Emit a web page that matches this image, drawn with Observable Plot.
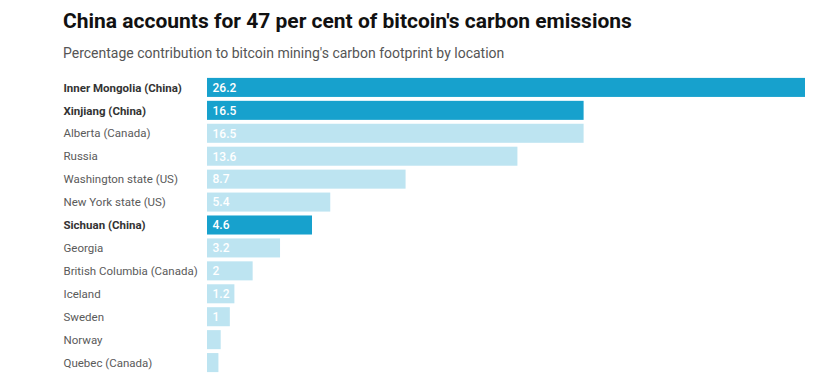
<!DOCTYPE html>
<html>
<head>
<meta charset="utf-8">
<script src="https://cdn.jsdelivr.net/npm/d3@7"></script>
<script src="https://cdn.jsdelivr.net/npm/@observablehq/plot@0.6"></script>
<style>
  html, body { margin: 0; padding: 0; background: #fff; }
  body { width: 820px; height: 378px; position: relative; overflow: hidden; font-family: Roboto, sans-serif; }
  #title { position: absolute; left: 63px; top: 9px; font-size: 21px; line-height: 24px; font-weight: 700; color: #111; white-space: nowrap; }
  #subtitle { position: absolute; left: 63px; top: 45px; font-size: 14px; line-height: 16px; color: #555; white-space: nowrap; }
  #chart { position: absolute; left: 0; top: 70px; }
  #chart svg { display: block; }
</style>
</head>
<body>
<div id="title">China accounts for 47 per cent of bitcoin's carbon emissions</div>
<div id="subtitle">Percentage contribution to bitcoin mining's carbon footprint by location</div>
<div id="chart"></div>
<script>
const locations = ["Inner Mongolia (China)", "Xinjiang (China)", "Alberta (Canada)", "Russia", "Washington state (US)", "New York state (US)", "Sichuan (China)", "Georgia", "British Columbia (Canada)", "Iceland", "Sweden", "Norway", "Quebec (Canada)"];
const shares = [26.2, 16.5, 16.5, 13.6, 8.7, 5.4, 4.6, 3.2, 2, 1.2, 1, 0.6, 0.5];
const valueLabels = ["26.2", "16.5", "16.5", "13.6", "8.7", "5.4", "4.6", "3.2", "2", "1.2", "1", "", ""];
const isChina = [true, true, false, false, false, false, true, false, false, false, false, false, false];

const rows = locations.map((loc, i) => ({loc, value: shares[i], label: valueLabels[i], china: isChina[i]}));

const chart = Plot.plot({
  width: 820,
  height: 306,
  marginLeft: 207,
  marginRight: 15,
  marginTop: 4,
  marginBottom: 0,
  style: {fontFamily: "Roboto, sans-serif", fontSize: "11.5px"},
  x: {domain: [0, 26.2], axis: null},
  y: {domain: locations, padding: 0.17, round: false, axis: null},
  marks: [
    Plot.barX(rows, {x: "value", y: "loc", fill: d => d.china ? "#17a1cd" : "#bde4f1"}),
    Plot.text(rows.filter(d => d.label), {x: 0, y: "loc", text: "label", textAnchor: "start", dx: 5, fill: "white", fontWeight: 500, fontSize: 12}),
    Plot.text(rows.filter(d => d.china), {y: "loc", text: "loc", frameAnchor: "left", textAnchor: "start", dx: -144, fill: "#333", fontWeight: 700, fontSize: 11.5}),
    Plot.text(rows.filter(d => !d.china), {y: "loc", text: "loc", frameAnchor: "left", textAnchor: "start", dx: -144, fill: "#5a5a5a", fontSize: 11.5})
  ]
});
document.getElementById("chart").appendChild(chart);
</script>
</body>
</html>
